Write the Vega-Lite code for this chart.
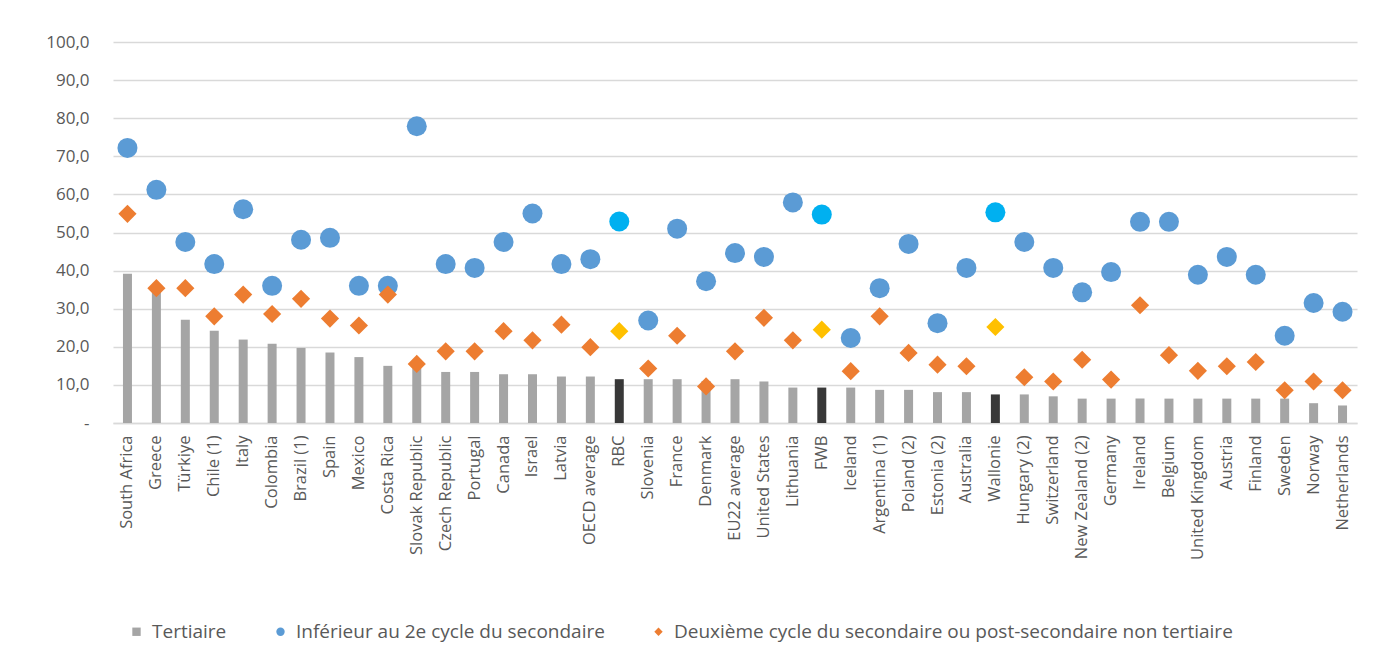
{
  "$schema": "https://vega.github.io/schema/vega-lite/v6.json",
  "autosize": {"type": "none"},
  "width": 1244,
  "height": 381,
  "padding": {"left": 113, "top": 42, "right": 17, "bottom": 243},
  "background": "white",
  "config": {
    "view": {"stroke": null},
    "font": "Open Sans"
  },
  "data": {
    "values": [
      {"pays": "South Africa", "t": 39.2, "i": 72.2, "d": 54.9, "hl": false},
      {"pays": "Greece", "t": 35.0, "i": 61.2, "d": 35.4, "hl": false},
      {"pays": "Türkiye", "t": 27.1, "i": 47.5, "d": 35.4, "hl": false},
      {"pays": "Chile (1)", "t": 24.2, "i": 41.7, "d": 28.0, "hl": false},
      {"pays": "Italy", "t": 21.9, "i": 56.1, "d": 33.7, "hl": false},
      {"pays": "Colombia", "t": 20.8, "i": 36.0, "d": 28.6, "hl": false},
      {"pays": "Brazil (1)", "t": 19.7, "i": 48.1, "d": 32.6, "hl": false},
      {"pays": "Spain", "t": 18.5, "i": 48.6, "d": 27.4, "hl": false},
      {"pays": "Mexico", "t": 17.3, "i": 36.0, "d": 25.6, "hl": false},
      {"pays": "Costa Rica", "t": 15.0, "i": 36.0, "d": 33.7, "hl": false},
      {"pays": "Slovak Republic", "t": 14.4, "i": 77.9, "d": 15.5, "hl": false},
      {"pays": "Czech Republic", "t": 13.4, "i": 41.7, "d": 18.8, "hl": false},
      {"pays": "Portugal", "t": 13.4, "i": 40.7, "d": 18.8, "hl": false},
      {"pays": "Canada", "t": 12.8, "i": 47.5, "d": 24.1, "hl": false},
      {"pays": "Israel", "t": 12.8, "i": 55.0, "d": 21.7, "hl": false},
      {"pays": "Latvia", "t": 12.2, "i": 41.7, "d": 25.8, "hl": false},
      {"pays": "OECD average", "t": 12.2, "i": 43.0, "d": 19.9, "hl": false},
      {"pays": "RBC", "t": 11.5, "i": 52.9, "d": 24.1, "hl": true},
      {"pays": "Slovenia", "t": 11.5, "i": 26.9, "d": 14.3, "hl": false},
      {"pays": "France", "t": 11.5, "i": 51.0, "d": 22.9, "hl": false},
      {"pays": "Denmark", "t": 11.0, "i": 37.2, "d": 9.6, "hl": false},
      {"pays": "EU22 average", "t": 11.5, "i": 44.6, "d": 18.8, "hl": false},
      {"pays": "United States", "t": 10.9, "i": 43.6, "d": 27.6, "hl": false},
      {"pays": "Lithuania", "t": 9.3, "i": 57.9, "d": 21.7, "hl": false},
      {"pays": "FWB", "t": 9.3, "i": 54.7, "d": 24.5, "hl": true},
      {"pays": "Iceland", "t": 9.3, "i": 22.3, "d": 13.6, "hl": false},
      {"pays": "Argentina (1)", "t": 8.7, "i": 35.4, "d": 28.0, "hl": false},
      {"pays": "Poland (2)", "t": 8.7, "i": 47.0, "d": 18.4, "hl": false},
      {"pays": "Estonia (2)", "t": 8.1, "i": 26.2, "d": 15.3, "hl": false},
      {"pays": "Australia", "t": 8.1, "i": 40.7, "d": 14.9, "hl": false},
      {"pays": "Wallonie", "t": 7.5, "i": 55.3, "d": 25.2, "hl": true},
      {"pays": "Hungary (2)", "t": 7.5, "i": 47.5, "d": 12.0, "hl": false},
      {"pays": "Switzerland", "t": 7.0, "i": 40.7, "d": 10.9, "hl": false},
      {"pays": "New Zealand (2)", "t": 6.4, "i": 34.3, "d": 16.6, "hl": false},
      {"pays": "Germany", "t": 6.4, "i": 39.6, "d": 11.4, "hl": false},
      {"pays": "Ireland", "t": 6.4, "i": 52.8, "d": 30.9, "hl": false},
      {"pays": "Belgium", "t": 6.4, "i": 52.8, "d": 17.8, "hl": false},
      {"pays": "United Kingdom", "t": 6.4, "i": 38.9, "d": 13.7, "hl": false},
      {"pays": "Austria", "t": 6.4, "i": 43.6, "d": 14.9, "hl": false},
      {"pays": "Finland", "t": 6.4, "i": 38.9, "d": 16.0, "hl": false},
      {"pays": "Sweden", "t": 6.4, "i": 22.9, "d": 8.6, "hl": false},
      {"pays": "Norway", "t": 5.2, "i": 31.5, "d": 10.9, "hl": false},
      {"pays": "Netherlands", "t": 4.6, "i": 29.2, "d": 8.6, "hl": false}
    ]
  },
  "transform": [{"fold": ["t", "i", "d"], "as": ["serie", "val"]}],
  "encoding": {
    "x": {
      "field": "pays",
      "type": "nominal",
      "sort": null,
      "scale": {"paddingInner": 0, "paddingOuter": 0},
      "axis": {
        "title": null,
        "labelAngle": 270,
        "labelAlign": "right",
        "labelBaseline": "middle",
        "labelPadding": 12,
        "labelFontSize": 16.5,
        "labelColor": "#595959",
        "labelFont": "Open Sans",
        "labelOverlap": false,
        "labelLimit": 300,
        "ticks": false,
        "domainColor": "#d9d9d9",
        "domainWidth": 1.5
      }
    },
    "y": {
      "field": "val",
      "type": "quantitative",
      "scale": {"domain": [0, 100], "nice": false},
      "axis": {
        "title": null,
        "values": [0, 10, 20, 30, 40, 50, 60, 70, 80, 90, 100],
        "labelExpr": "datum.value == 0 ? '-' : replace(format(datum.value, '.1f'), '.', ',')",
        "labelFontSize": 17,
        "labelColor": "#595959",
        "labelFont": "Open Sans",
        "labelPadding": 24,
        "ticks": false,
        "domain": false,
        "gridColor": "#d9d9d9",
        "gridWidth": 1.5
      }
    }
  },
  "layer": [
    {
      "transform": [{"filter": "datum.serie == 't'"}],
      "mark": {"type": "bar", "size": 9},
      "encoding": {
        "color": {
          "field": "serie",
          "type": "nominal",
          "scale": {"domain": ["t", "i", "d"], "range": ["#A5A5A5", "#5B9BD5", "#ED7D31"]},
          "condition": {"test": "datum.hl", "value": "#383838"},
          "legend": {
            "title": null,
            "orient": "none",
            "direction": "horizontal",
            "legendX": 14,
            "legendY": 580,
            "labelExpr": "datum.label == 't' ? 'Tertiaire' : datum.label == 'i' ? 'Inférieur au 2e cycle du secondaire' : 'Deuxième cycle du secondaire ou post-secondaire non tertiaire'",
            "labelFontSize": 19,
            "labelColor": "#595959",
            "labelFont": "Open Sans",
            "labelLimit": 800,
            "labelOffset": 6,
            "columnPadding": 44,
            "symbolSize": 70,
            "symbolStrokeWidth": 0
          }
        }
      }
    },
    {
      "transform": [{"filter": "datum.serie != 't'"}],
      "mark": {"type": "point", "filled": true, "opacity": 1, "strokeWidth": 0},
      "encoding": {
        "color": {
          "field": "serie",
          "type": "nominal",
          "scale": {"domain": ["t", "i", "d"], "range": ["#A5A5A5", "#5B9BD5", "#ED7D31"]},
          "condition": [
            {"test": "datum.hl && datum.serie == 'i'", "value": "#00B0F0"},
            {"test": "datum.hl && datum.serie == 'd'", "value": "#FFC000"}
          ]
        },
        "shape": {
          "field": "serie",
          "type": "nominal",
          "scale": {"domain": ["t", "i", "d"], "range": ["square", "circle", "diamond"]}
        },
        "size": {"condition": {"test": "datum.serie == 'i'", "value": 400}, "value": 330}
      }
    }
  ]
}
